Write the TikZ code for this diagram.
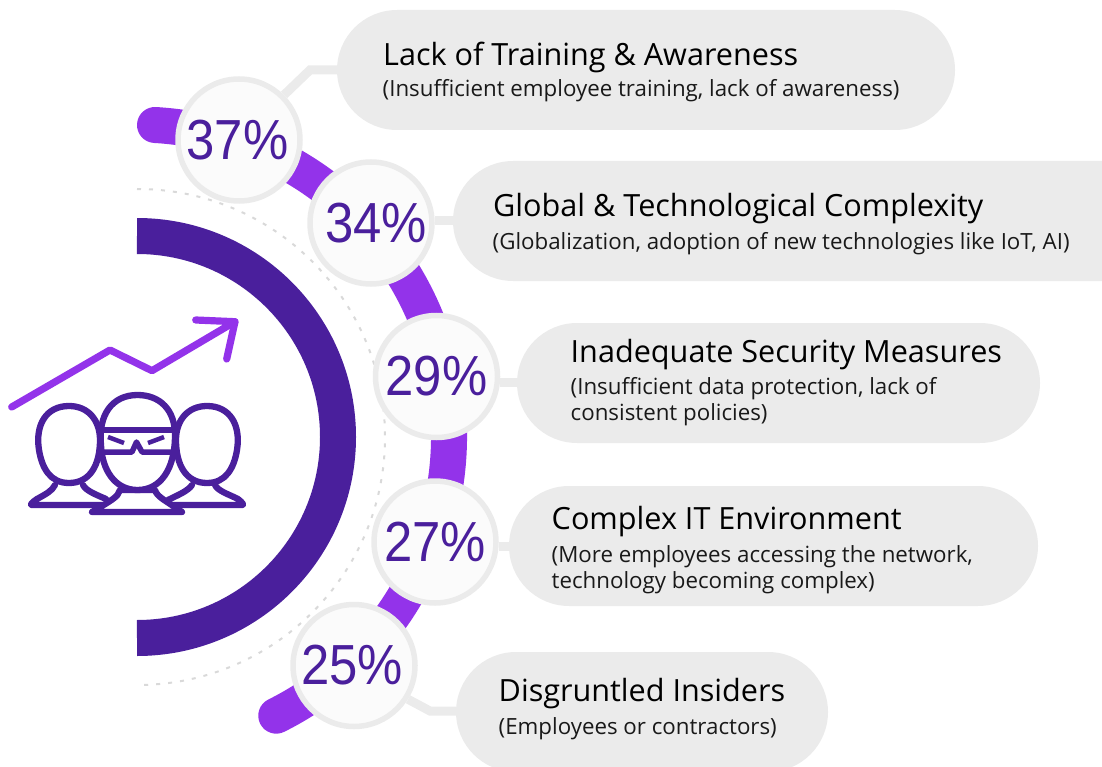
\documentclass[tikz,border=0pt]{standalone}
\usepackage{fontspec}
\setmainfont{Open Sans}
\newfontfamily\pctfont[FakeStretch=0.9]{Liberation Sans}
\definecolor{dark}{HTML}{4A1F9C}
\definecolor{vio}{HTML}{9333EA}
\definecolor{pill}{HTML}{EBEBEB}
\definecolor{disc}{HTML}{FBFBFB}
\definecolor{dots}{HTML}{D9D9D9}
\tikzset{
  x=1pt,y=-1pt,
  pillbox/.style={fill=pill,draw=none,rounded corners=60pt,minimum height=120pt,inner sep=0pt},
  link/.style={draw=pill,line width=9pt,line join=miter},
  pctdisc/.style={circle,draw=pill,fill=disc,line width=5.5pt,minimum size=122pt,inner sep=0pt,font=\pctfont\fontsize{56.5}{56.5}\selectfont,text=dark},
  title/.style={anchor=west,inner sep=0pt,font=\fontsize{30.6}{36}\selectfont,text=black},
  sub/.style={anchor=north west,inner sep=0pt,align=left,font=\fontsize{22.3}{26.5}\selectfont,text=black!90},
  icon/.style={draw=dark,line width=6.3pt,line cap=round,line join=round},
  iconhead/.style={icon,fill=white},
  trend/.style={draw=vio,line width=7.2pt,line cap=round,line join=round},
}
\begin{document}
\begin{tikzpicture}
\useasboundingbox (0,0) rectangle (1102,767);
\clip (0,0) rectangle (1102,767);
% arcs
\draw[draw=dark,line width=36pt] (137,236) arc[start angle=90,end angle=-90,x radius=201,y radius=-201];
\draw[draw=dots,line width=2pt,dash pattern=on 4pt off 8pt] (137,189) arc[start angle=90,end angle=-90,x radius=248,y radius=-248];
\draw[draw=vio,line width=36pt,line cap=round] (155,125) arc[start angle=86.7,end angle=-63.5,x radius=312,y radius=-312];
% pills
\node[pillbox,minimum width=618pt] (p1) at (646,70) {};
\node[pillbox,minimum width=737pt] (p2) at (821.5,221) {};
\node[pillbox,minimum width=523pt] (p3) at (778.5,383) {};
\node[pillbox,minimum width=529pt] (p4) at (773.5,546) {};
\node[pillbox,minimum width=372pt] (p5) at (642,712) {};
% connectors
\coordinate (k1) at (310,70);
\coordinate (k5) at (430,711);
\node[pctdisc] (a) at (239,140) {\hspace*{-3pt}37\%};
\node[pctdisc] (b) at (371,223) {\hspace*{10pt}34\%};
\node[pctdisc] (c) at (436.5,376.5) {29\%};
\node[pctdisc] (d) at (435,542) {27\%};
\node[pctdisc] (e) at (354,665.5) {\hspace*{-4pt}25\%};
\draw[link] (a.45) -- (k1) -- (p1.west |- k1);
\draw[link] (b.east |- 0,221) -- (p2.west |- 0,221);
\draw[link] (c.east |- 0,382) -- (p3.west |- 0,382);
\draw[link] (d.east |- 0,546) -- (p4.west |- 0,546);
\draw[link] (e.-32) -- (k5) -- (p5.west |- k5);
% text
\node[title] (t1) at (383,57) {Lack of Training \& Awareness};
\node[sub] (s1) at (382.5,79) {(Insufficient employee training, lack of awareness)};
\node[title] (t2) at (493,209) {Global \& Technological Complexity};
\node[sub] (s2) at (492.5,232) {(Globalization, adoption of new technologies like IoT, AI)};
\node[title] (t3) at (570.5,355) {Inadequate Security Measures};
\node[sub] (s3) at (570.5,377) {(Insufficient data protection, lack of\\consistent policies)};
\node[title] (t4) at (551.5,522) {Complex IT Environment};
\node[sub] (s4) at (551.5,545) {(More employees accessing the network,\\technology becoming complex)};
\node[title] (t5) at (498.5,694) {Disgruntled Insiders};
\node[sub] (s5) at (498.5,717) {(Employees or contractors)};
% icon: trend
\draw[trend] (11.7,407) -- (110,350) -- (152,370.7) -- (235,321.7);
\draw[trend] (195.7,320) -- (235,321.7) -- (226.7,359);
% icon: shoulders of side figures
\draw[icon] (55,485) .. controls (52,491) and (46,494) .. (37,499) .. controls (31,503) and (30,505) .. (32,505) -- (106,505);
\draw[icon] (83,485) .. controls (86,491) and (97,495) .. (106,499);
\draw[icon] (215,485) .. controls (218,491) and (228,494) .. (238,499) .. controls (243,503) and (244,505) .. (242,505) -- (170,505);
\draw[icon] (192,485) .. controls (188,491) and (178,495) .. (168,500);
% icon: side heads
\draw[iconhead] (69,406) .. controls (88,406) and (100,420) .. (100,440) .. controls (100,465) and (90,483) .. (69,483) .. controls (50,483) and (42,468) .. (39,450) .. controls (35,425) and (46,406) .. (69,406) -- cycle;
\draw[iconhead] (207,406) .. controls (188,406) and (176,420) .. (176,440) .. controls (176,465) and (186,483) .. (207,483) .. controls (226,483) and (234,468) .. (237,450) .. controls (241,425) and (230,406) .. (207,406) -- cycle;
% icon: centre figure
\draw[icon,fill=white] (120,490) .. controls (118,497) and (112,500) .. (92,512) -- (182,512) .. controls (165,500) and (157,497) .. (155,490) -- cycle;
\draw[iconhead] (137.5,395) .. controls (160,395) and (175,410) .. (175,435) .. controls (175,470) and (160,490) .. (137.5,490) .. controls (115,490) and (102,470) .. (101,445) .. controls (98,415) and (112,395) .. (137.5,395) -- cycle;
% icon: goggles
\draw[draw=dark,line width=5.5pt,line join=round] (100,430) -- (175,430);
\draw[draw=dark,line width=5.5pt,line join=round] (102,452) -- (132,452) -- (136.5,442) -- (142,452) -- (174,452);
\draw[draw=dark,line width=4.5pt] (108,437) -- (124,443);
\draw[draw=dark,line width=4.5pt] (148,443) -- (164,437);
\end{tikzpicture}
\end{document}
